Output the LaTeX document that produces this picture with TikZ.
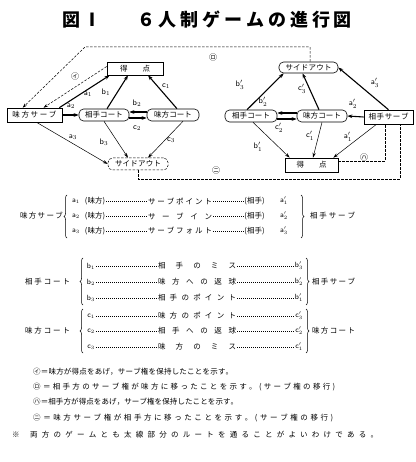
\documentclass[tikz,border=0pt]{standalone}
\usepackage{fontspec}
\setmainfont{Noto Sans CJK JP}
\usetikzlibrary{arrows.meta,decorations.pathreplacing}
\newcommand\spreadto[2]{\makebox[#1][s]{\spreadA#2\relax}}
\def\spreadA#1{#1\spreadB}
\def\spreadB#1{\ifx\relax#1\else\hfil#1\expandafter\spreadB\fi}
\newcommand\lb[2]{$\mathsf{#1}_{#2}$}
\newcommand\lp[2]{$\mathsf{#1}'_{#2}$}
\tikzset{
  bx/.style={draw, line width=0.6pt, inner sep=0pt},
  rbx/.style={draw, line width=0.6pt, inner sep=0pt, rounded corners=4.5pt},
  thk/.style={line width=1.1pt, -{Stealth[length=5pt,width=3.6pt]}},
  thn/.style={line width=0.5pt, -{Stealth[length=5pt,width=3.2pt]}},
  dsh/.style={line width=0.5pt, dash pattern=on 2.5pt off 1.5pt},
  lbl/.style={inner sep=0pt, font=\fontsize{8}{9}\selectfont},
  tx/.style={inner sep=1pt},
  ldr/.style={line width=0.6pt, dash pattern=on 0.6pt off 1.4pt},
  brc/.style={decorate, decoration={brace, amplitude=3pt}, line width=0.5pt},
  ttl/.style={inner sep=0pt, font=\fontsize{18}{20}\selectfont\bfseries}
}
\begin{document}
\begin{tikzpicture}[x=1pt,y=-1pt, font=\fontsize{7.5}{9}\selectfont]
\useasboundingbox (0,0) rectangle (415,462);
\fill[white] (0,0) rectangle (415,462);

% title
\node[ttl] (t1) at (71,20) {図};
\node[ttl] (t2) at (92,20) {Ⅰ};
\node[ttl] (t3) at (244.5,20) {\spreadto{215pt}{６人制ゲームの進行図}};

% left diagram
\node[bx, minimum width=56pt, minimum height=13pt] (tokL) at (135,68.5) {\spreadto{30pt}{得点}};
\node[bx, minimum width=55pt, minimum height=14pt] (msL) at (34.5,115) {\spreadto{44pt}{味方サーブ}};
\node[rbx, minimum width=50pt, minimum height=12pt] (acL) at (104,115) {\spreadto{38pt}{相手コート}};
\node[rbx, minimum width=52pt, minimum height=12pt] (mcL) at (173,115) {\spreadto{38pt}{味方コート}};
\node[rbx, dsh, minimum width=60pt, minimum height=12pt] (soL) at (138,164) {\spreadto{46pt}{サイドアウト}};

\draw[thk] ([xshift=-3pt]msL.north east) -- ([xshift=3pt]tokL.south west);
\draw[thk] (msL.east) -- (acL.west);
\draw[thn] ([xshift=2pt]msL.south) -- (soL.west);
\draw[thk] ([xshift=3pt]acL.north) -- ([xshift=-7pt]tokL.south);
\draw[thk] ([yshift=-3pt]acL.east) -- ([yshift=-3pt]mcL.west);
\draw[thk] ([yshift=3pt]mcL.west) -- ([yshift=3pt]acL.east);
\draw[thn] (acL.south) -- ([xshift=-10pt]soL.north);
\draw[thk] ([xshift=4pt]mcL.north) -- ([xshift=13pt]tokL.south);
\draw[thn] ([xshift=10pt]mcL.south) -- ([xshift=10pt]soL.north);

\node[lbl] (la1) at (88,94) {\lb{a}{1}};
\node[lbl] (la2) at (71,106) {\lb{a}{2}};
\node[lbl] (la3) at (73,137) {\lb{a}{3}};
\node[lbl] (lb1) at (106,92) {\lb{b}{1}};
\node[lbl] (lb2) at (137,103) {\lb{b}{2}};
\node[lbl] (lc2) at (137,128) {\lb{c}{2}};
\node[lbl] (lb3) at (104,142) {\lb{b}{3}};
\node[lbl] (lc1) at (166,86) {\lb{c}{1}};
\node[lbl] (lc3) at (171,140) {\lb{c}{3}};

% right diagram
\node[rbx, minimum width=59pt, minimum height=11pt] (soR) at (308.5,67.5) {\spreadto{46pt}{サイドアウト}};
\node[rbx, minimum width=52pt, minimum height=12pt] (acR) at (251,116) {\spreadto{38pt}{相手コート}};
\node[rbx, minimum width=50pt, minimum height=12pt] (mcR) at (322,116) {\spreadto{38pt}{味方コート}};
\node[bx, minimum width=49pt, minimum height=14pt] (asR) at (388.5,117) {\spreadto{40pt}{相手サーブ}};
\node[bx, minimum width=53pt, minimum height=14pt] (tokR) at (311.5,165) {\spreadto{30pt}{得点}};

\draw[thk] ([xshift=-4pt]acR.north) -- ([xshift=5pt]soR.south west);
\draw[thk] ([yshift=-3pt]acR.east) -- ([yshift=-3pt]mcR.west);
\draw[thk] ([yshift=3pt]mcR.west) -- ([yshift=3pt]acR.east);
\draw[thn] ([xshift=2pt]acR.south) -- ([xshift=5pt]tokR.north west);
\draw[thk] ([xshift=-3pt]mcR.north) -- ([xshift=-6pt]soR.south);
\draw[thn] (mcR.south) -- ([xshift=1.5pt]tokR.north);
\draw[thk] (asR.west) -- (mcR.east);
\draw[thk] (asR.north) -- (soR.east);
\draw[thn] ([xshift=-12pt]asR.south) -- ([xshift=-5pt]tokR.north east);

\node[lbl] (rb3) at (240,85) {\lp{b}{3}};
\node[lbl] (rb2) at (263,102) {\lp{b}{2}};
\node[lbl] (rc2) at (279,128) {\lp{c}{2}};
\node[lbl] (rb1) at (258,147) {\lp{b}{1}};
\node[lbl] (rc3) at (302,89) {\lp{c}{3}};
\node[lbl] (rc1) at (310,136) {\lp{c}{1}};
\node[lbl] (ra2) at (353,104) {\lp{a}{2}};
\node[lbl] (ra3) at (375,83) {\lp{a}{3}};
\node[lbl] (ra1) at (348,137) {\lp{a}{1}};

% dashed transitions
\coordinate (r1) at (85,47);
\coordinate (n1) at (400,179);
\draw[dsh,-{Stealth[length=4.5pt,width=3pt]}] ([xshift=1.5pt]soR.north) |- (r1) -- ([xshift=16pt]msL.north west);
\draw[dsh,-{Stealth[length=4.5pt,width=3pt]}] ([yshift=2pt]tokL.west) -- ([xshift=9pt]msL.north);
\draw[dsh] (soL.south) |- (n1) -- (n1 |- asR.south);
\draw[dsh] ([yshift=4pt]tokR.east) -| ([xshift=-3.5pt]asR.south);

\node[lbl] (ci) at (75,76) {㋑};
\node[lbl] (cro) at (213,57) {㋺};
\node[lbl] (cha) at (364,157) {㋩};
\node[lbl] (cni) at (216,170) {㋥};

% table group 1
\node[tx] (g1l) at (41.5,216) {\spreadto{43pt}{味方サーブ}};
\draw[brc] (67,238) -- (67,195);
\draw[brc] (301,195) -- (301,238);
\node[tx] (g1r) at (332.5,216) {\spreadto{45pt}{相手サーブ}};

\node[tx] (a1l) at (76,201) {\lb{a}{1}};
\node[tx] (a1m) at (95,201) {(味方)};
\node[tx] (a1c) at (180,201) {\spreadto{64pt}{サーブポイント}};
\node[tx] (a1o) at (254.5,201) {(相手)};
\node[tx] (a1r) at (284,201) {\lp{a}{1}};
\draw[ldr] (a1m.east) -- (a1c.west); \draw[ldr] (a1c.east) -- (a1o.west);

\node[tx] (a2l) at (76,216) {\lb{a}{2}};
\node[tx] (a2m) at (95,216) {(味方)};
\node[tx] (a2c) at (180,216) {\spreadto{64pt}{サーブイン}};
\node[tx] (a2o) at (254.5,216) {(相手)};
\node[tx] (a2r) at (284,216) {\lp{a}{2}};
\draw[ldr] (a2m.east) -- (a2c.west); \draw[ldr] (a2c.east) -- (a2o.west);

\node[tx] (a3l) at (76,231) {\lb{a}{3}};
\node[tx] (a3m) at (95,231) {(味方)};
\node[tx] (a3c) at (180,231) {\spreadto{64pt}{サーブフォルト}};
\node[tx] (a3o) at (254.5,231) {(相手)};
\node[tx] (a3r) at (284,231) {\lp{a}{3}};
\draw[ldr] (a3m.east) -- (a3c.west); \draw[ldr] (a3c.east) -- (a3o.west);

% table group 2
\node[tx] (g2l) at (47.5,282) {\spreadto{45pt}{相手コート}};
\draw[brc] (83,305) -- (83,258);
\draw[brc] (306,258) -- (306,305);
\node[tx] (g2r) at (333.5,282) {\spreadto{43pt}{相手サーブ}};

\node[tx] (b1l) at (91,266) {\lb{b}{1}};
\node[tx] (b1c) at (197,266) {\spreadto{78pt}{相手のミス}};
\node[tx] (b1r) at (299,266) {\lp{b}{3}};
\draw[ldr] (b1l.east) -- (b1c.west); \draw[ldr] (b1c.east) -- (b1r.west);

\node[tx] (b2l) at (91,282) {\lb{b}{2}};
\node[tx] (b2c) at (197,282) {\spreadto{78pt}{味方への返球}};
\node[tx] (b2r) at (299,282) {\lp{b}{2}};
\draw[ldr] (b2l.east) -- (b2c.west); \draw[ldr] (b2c.east) -- (b2r.west);

\node[tx] (b3l) at (91,298) {\lb{b}{3}};
\node[tx] (b3c) at (197,298) {\spreadto{78pt}{相手のポイント}};
\node[tx] (b3r) at (299,298) {\lp{b}{1}};
\draw[ldr] (b3l.east) -- (b3c.west); \draw[ldr] (b3c.east) -- (b3r.west);

% table group 3
\node[tx] (g3l) at (47.5,331) {\spreadto{45pt}{味方コート}};
\draw[brc] (83,353) -- (83,309);
\draw[brc] (306,309) -- (306,353);
\node[tx] (g3r) at (333.5,331) {\spreadto{43pt}{味方コート}};

\node[tx] (c1l) at (91,316) {\lb{c}{1}};
\node[tx] (c1c) at (197,316) {\spreadto{78pt}{味方のポイント}};
\node[tx] (c1r) at (299,316) {\lp{c}{3}};
\draw[ldr] (c1l.east) -- (c1c.west); \draw[ldr] (c1c.east) -- (c1r.west);

\node[tx] (c2l) at (91,331) {\lb{c}{2}};
\node[tx] (c2c) at (197,331) {\spreadto{78pt}{相手への返球}};
\node[tx] (c2r) at (299,331) {\lp{c}{2}};
\draw[ldr] (c2l.east) -- (c2c.west); \draw[ldr] (c2c.east) -- (c2r.west);

\node[tx] (c3l) at (91,347) {\lb{c}{3}};
\node[tx] (c3c) at (197,347) {\spreadto{78pt}{味方のミス}};
\node[tx] (c3r) at (299,347) {\lp{c}{1}};
\draw[ldr] (c3l.east) -- (c3c.west); \draw[ldr] (c3c.east) -- (c3r.west);

% footnotes
\node[tx, anchor=west, inner sep=0pt] (f1) at (33,372) {\spreadto{200pt}{㋑＝味方が得点をあげ，サーブ権を保持したことを示す。}};
\node[tx, anchor=west, inner sep=0pt] (f2) at (33,387) {\spreadto{302pt}{㋺＝相手方のサーブ権が味方に移ったことを示す。(サーブ権の移行)}};
\node[tx, anchor=west, inner sep=0pt] (f3) at (33,402) {\spreadto{205pt}{㋩＝相手方が得点をあげ，サーブ権を保持したことを示す。}};
\node[tx, anchor=west, inner sep=0pt] (f4) at (33,418) {\spreadto{300pt}{㋥＝味方サーブ権が相手方に移ったことを示す。(サーブ権の移行)}};
\node[tx] (f5a) at (16,435) {※};
\node[tx, anchor=west, inner sep=0pt] (f5) at (30,435) {\spreadto{348pt}{両方のゲームとも太線部分のルートを通ることがよいわけである。}};
\end{tikzpicture}
\end{document}
